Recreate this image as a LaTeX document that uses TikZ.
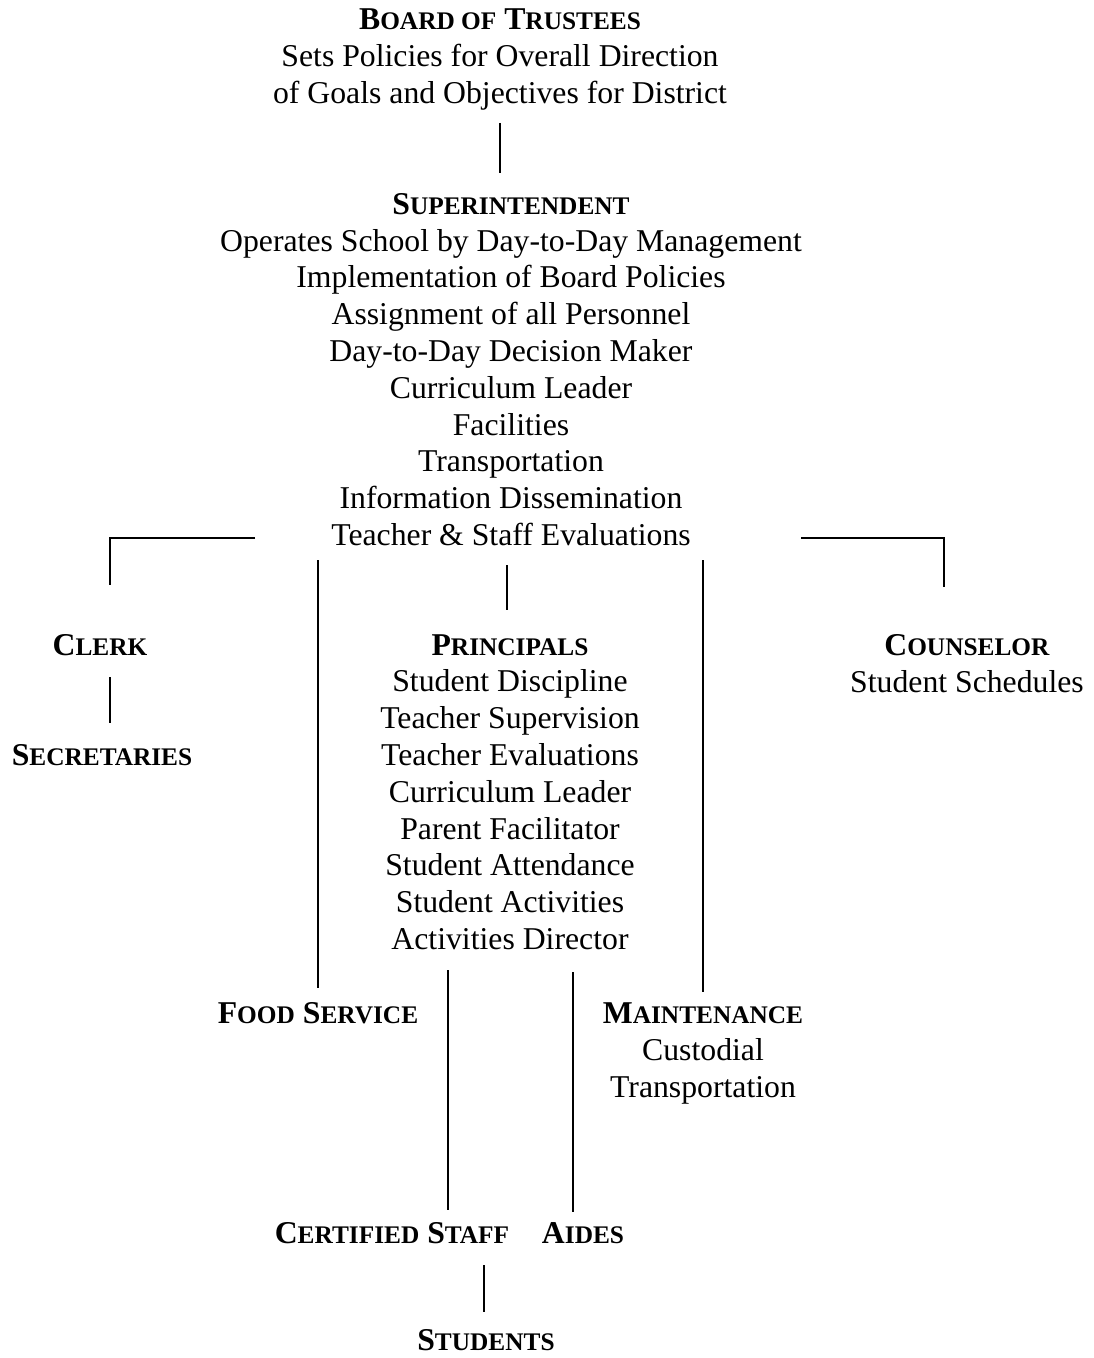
\documentclass[tikz,border=0pt]{standalone}
\usepackage{fontspec}
\setmainfont{Liberation Serif}
\newcommand\smc[1]{{\fontsize{19}{20}\selectfont #1}}
\begin{document}
\begin{tikzpicture}[x=0.75pt,y=-0.75pt,
  blk/.style={align=center,inner sep=0pt,font=\fontsize{23.8}{27.6}\selectfont},
  conn/.style={line width=1.5pt}]
\useasboundingbox (0,0) rectangle (1094,1358);
% nodes
\node[blk] (board) at (500,59.5) {\textbf{B\smc{OARD OF} T\smc{RUSTEES}}\\Sets Policies for Overall Direction\\of Goals and Objectives for District};
\node[blk] (super) at (511,369.5) {\textbf{S\smc{UPERINTENDENT}}\\Operates School by Day-to-Day Management\\Implementation of Board Policies\\Assignment of all Personnel\\Day-to-Day Decision Maker\\Curriculum Leader\\Facilities\\Transportation\\Information Dissemination\\Teacher \& Staff Evaluations};
\node[blk] (clerk) at (100,645) {\textbf{C\smc{LERK}}};
\node[blk] (secr) at (102,755) {\textbf{S\smc{ECRETARIES}}};
\node[blk] (princ) at (510,792) {\textbf{P\smc{RINCIPALS}}\\Student Discipline\\Teacher Supervision\\Teacher Evaluations\\Curriculum Leader\\Parent Facilitator\\Student Attendance\\Student Activities\\Activities Director};
\node[blk] (couns) at (967,663.5) {\textbf{C\smc{OUNSELOR}}\\Student Schedules};
\node[blk] (food) at (318,1013) {\textbf{F\smc{OOD} S\smc{ERVICE}}};
\node[blk] (maint) at (703,1053.5) {\textbf{M\smc{AINTENANCE}}\\Custodial\\Transportation};
\node[blk] (cert) at (392,1233) {\textbf{C\smc{ERTIFIED} S\smc{TAFF}}};
\node[blk] (aides) at (583,1233) {\textbf{A\smc{IDES}}};
\node[blk] (stud) at (486,1340) {\textbf{S\smc{TUDENTS}}};
% connector end points
\coordinate (c1a) at (500,123); \coordinate (c1b) at (500,173);
\coordinate (cla) at (255,538); \coordinate (clb) at (110,538); \coordinate (clc) at (110,585);
\coordinate (cra) at (801,538); \coordinate (crb) at (944,538); \coordinate (crc) at (944,587);
\coordinate (cfa) at (318,560); \coordinate (cfb) at (318,988);
\coordinate (cpa) at (507,565); \coordinate (cpb) at (507,610);
\coordinate (cma) at (703,560); \coordinate (cmb) at (703,992);
\coordinate (csa) at (110,677); \coordinate (csb) at (110,723);
\coordinate (cca) at (448,970); \coordinate (ccb) at (448,1210);
\coordinate (caa) at (573,972); \coordinate (cab) at (573,1212);
\coordinate (cta) at (484,1265); \coordinate (ctb) at (484,1312);
% connectors
\draw[conn] (c1a) -- (c1b);
\draw[conn] (cla) -- (clb) -- (clc);
\draw[conn] (cra) -- (crb) -- (crc);
\draw[conn] (cfa) -- (cfb);
\draw[conn] (cpa) -- (cpb);
\draw[conn] (cma) -- (cmb);
\draw[conn] (csa) -- (csb);
\draw[conn] (cca) -- (ccb);
\draw[conn] (caa) -- (cab);
\draw[conn] (cta) -- (ctb);
\end{tikzpicture}
\end{document}
